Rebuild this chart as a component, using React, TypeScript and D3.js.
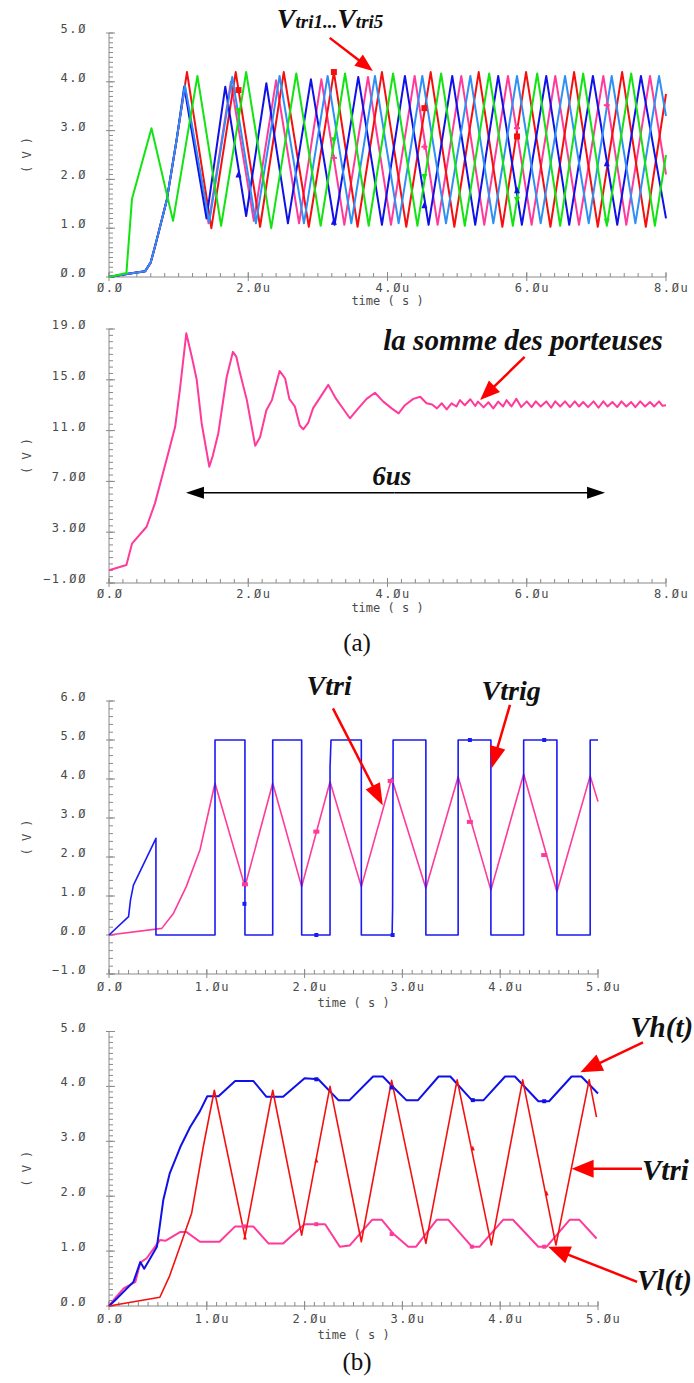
import React from "react";
import * as d3 from "d3";

type Pt = [number, number];

// ---------- Panel (a) top: five triangular carriers Vtri1..Vtri5 (t in µs, V) ----------
const vtriGreen: Pt[] = [[0,0],[0.25,0.08],[0.33,1.6],[0.61,3.05],[0.92,1.15],[1.27,4.12],[1.61,1.05],[1.97,4.2],[2.33,1.0],[2.69,4.17],[3.04,1.05],[3.39,4.17],[3.73,1.05],[4.08,4.17],[4.43,1.05],[4.77,4.17],[5.11,1.05],[5.46,4.17],[5.80,1.05],[6.15,4.17],[6.48,1.05],[6.81,4.17],[7.15,1.05],[7.50,4.17],[7.84,1.05],[8.0,2.5]];
const vtriLightBlue: Pt[] = [[0,0],[0.3,0.07],[0.52,0.12],[0.6,0.3],[0.685,0.76],[0.83,1.58],[0.97,2.8],[1.09,3.93],[1.44,1.12],[1.77,4.1],[2.11,1.1],[2.45,4.12],[2.80,1.1],[3.14,4.12],[3.48,1.1],[3.82,4.12],[4.16,1.1],[4.50,4.12],[4.84,1.1],[5.19,4.12],[5.52,1.1],[5.86,4.12],[6.20,1.1],[6.55,4.12],[6.89,1.1],[7.22,4.12],[7.56,1.1],[7.90,4.12],[8.0,3.3]];
const vtriRed: Pt[] = [[0,0],[0.3,0.07],[0.52,0.12],[0.6,0.3],[0.685,0.76],[0.83,1.58],[0.97,2.8],[1.12,4.2],[1.47,1.0],[1.82,4.2],[2.17,1.03],[2.51,4.2],[2.87,1.03],[3.23,4.2],[3.57,1.03],[3.92,4.2],[4.27,1.03],[4.62,4.2],[4.96,1.03],[5.31,4.2],[5.65,1.03],[5.99,4.2],[6.34,1.03],[6.68,4.2],[7.02,1.03],[7.37,4.2],[7.71,1.03],[8.0,3.75]];
const vtriBlue: Pt[] = [[0,0],[0.3,0.07],[0.52,0.12],[0.6,0.3],[0.685,0.76],[0.83,1.58],[0.97,2.8],[1.08,3.9],[1.40,1.2],[1.67,3.9],[1.97,1.25],[2.26,3.97],[2.57,1.1],[2.90,4.05],[3.24,1.07],[3.58,4.1],[3.92,1.07],[4.25,4.12],[4.59,1.07],[4.93,4.12],[5.26,1.07],[5.59,4.12],[5.93,1.07],[6.28,4.12],[6.61,1.07],[6.95,4.12],[7.30,1.07],[7.64,4.12],[8.0,1.2]];
const vtriPink: Pt[] = [[0,0],[0.3,0.07],[0.52,0.12],[0.6,0.3],[0.685,0.76],[0.83,1.58],[0.97,2.8],[1.09,3.9],[1.43,1.1],[1.75,4.0],[2.08,1.15],[2.40,4.03],[2.73,1.1],[3.05,4.05],[3.38,1.07],[3.72,4.1],[4.05,1.07],[4.39,4.12],[4.72,1.07],[5.06,4.12],[5.39,1.07],[5.73,4.12],[6.07,1.07],[6.41,4.12],[6.75,1.07],[7.10,4.12],[7.43,1.07],[7.77,4.12],[8.0,2.1]];

const mkRedA: Pt[] = [[1.86,3.83],[3.23,4.2],[4.53,3.46],[5.86,2.88]];
const mkGreenA: Pt[] = [[1.86,3.4],[3.23,2.8],[4.53,2.05],[5.86,1.58],[7.15,1.13]];
const mkBlueA: Pt[] = [[1.86,2.1],[3.23,1.13],[4.53,1.47],[5.86,1.78],[7.15,2.33]];
const mkPinkA: Pt[] = [[3.23,2.44],[4.53,2.67],[5.86,3.05],[7.15,3.52]];

// ---------- Panel (a) bottom: sum of the carriers ----------
const sommePorteuses: Pt[] = [[0,0],[0.25,0.42],[0.33,2.1],[0.54,3.43],[0.66,5.27],[0.85,9.2],[0.95,11.3],[1.02,14.3],[1.11,18.66],[1.19,16.8],[1.26,15.0],[1.33,11.6],[1.44,8.16],[1.49,9.0],[1.57,10.8],[1.69,15.2],[1.78,17.2],[1.83,16.8],[1.87,15.8],[1.98,13.4],[2.10,9.8],[2.17,10.5],[2.26,12.6],[2.34,13.4],[2.45,15.7],[2.53,15.1],[2.59,13.5],[2.67,12.9],[2.74,11.4],[2.79,11.1],[2.86,11.6],[2.93,12.75],[3.15,14.6],[3.25,13.6],[3.34,12.9],[3.46,11.97],[3.58,12.75],[3.70,13.5],[3.82,13.98],[3.94,13.28],[4.06,12.75],[4.16,12.36],[4.25,13.0],[4.37,13.5],[4.47,13.67],[4.56,13.15],[4.64,13.05],[4.71,12.75],[4.78,13.15],[4.85,12.67],[4.92,13.15],[4.99,12.9],[5.04,13.4],[5.11,13.0],[5.19,13.47],[5.26,12.94],[5.30,13.28],[5.38,12.83],[5.45,13.23],[5.52,12.75],[5.59,13.28],[5.66,12.9],[5.71,13.4],[5.78,12.9],[5.85,13.5],[5.92,12.85],[6.0,13.3],[6.07,12.85],[6.13,13.3],[6.20,12.9],[6.28,13.3],[6.35,12.8],[6.41,13.3],[6.48,12.9],[6.55,13.3],[6.62,12.85],[6.69,13.3],[6.75,12.9],[6.81,13.25],[6.88,12.85],[6.96,13.3],[7.03,12.8],[7.10,13.3],[7.16,12.9],[7.23,13.25],[7.30,12.85],[7.36,13.3],[7.43,12.9],[7.50,13.25],[7.56,12.85],[7.63,13.3],[7.70,12.9],[7.77,13.25],[7.83,12.9],[7.90,13.3],[7.95,12.95],[8.0,13.0]];

// ---------- Panel (b) top: Vtrig (square) and Vtri ----------
const vtrigB: Pt[] = [[0,0],[0.2,0.47],[0.22,0.9],[0.25,1.28],[0.48,2.48],[0.48,0],[1.084,0],[1.084,5],[1.39,5],[1.39,0],[1.674,0],[1.674,5],[1.97,5],[1.97,0],[2.26,0],[2.26,4.3],[2.27,5],[2.58,5],[2.58,0],[2.895,0],[2.9,0.72],[2.905,5],[3.24,5],[3.24,0],[3.57,0],[3.57,5],[3.905,5],[3.905,0],[4.24,0],[4.24,5],[4.58,5],[4.58,0],[4.92,0],[4.92,5],[5.0,5]];
const vtriB: Pt[] = [[0,0],[0.54,0.17],[0.66,0.56],[0.79,1.24],[0.93,2.18],[1.084,3.89],[1.39,1.24],[1.674,3.89],[1.97,1.24],[2.26,3.93],[2.58,1.24],[2.89,4.02],[3.24,1.2],[3.57,4.06],[3.905,1.15],[4.24,4.13],[4.58,1.11],[4.92,4.08],[5.0,3.42]];
const mkTrigB: Pt[] = [[1.385,0.8],[2.12,0],[2.9,0],[3.69,5],[4.45,5]];
const mkTriB: Pt[] = [[1.39,1.3],[2.12,2.65],[2.88,3.95],[3.69,2.9],[4.45,2.05]];

// ---------- Panel (b) bottom: Vh(t), Vtri, Vl(t) ----------
const vhB: Pt[] = [[0,0],[0.06,0.1],[0.25,0.44],[0.32,0.8],[0.36,0.68],[0.49,1.08],[0.555,1.93],[0.62,2.41],[0.73,2.9],[0.83,3.26],[0.93,3.55],[1.005,3.82],[1.12,3.82],[1.29,4.1],[1.475,4.1],[1.61,3.81],[1.78,3.81],[2.0,4.15],[2.14,4.13],[2.345,3.75],[2.46,3.75],[2.70,4.18],[2.80,4.18],[2.91,3.98],[3.04,3.75],[3.16,3.75],[3.37,4.18],[3.49,4.18],[3.71,3.75],[3.83,3.75],[4.05,4.18],[4.15,4.18],[4.39,3.73],[4.50,3.73],[4.73,4.18],[4.83,4.18],[5.0,3.87]];
const vlB: Pt[] = [[0,0],[0.06,0.14],[0.15,0.32],[0.27,0.44],[0.32,0.79],[0.385,0.87],[0.52,1.2],[0.58,1.19],[0.73,1.35],[0.79,1.35],[0.93,1.17],[1.13,1.17],[1.29,1.45],[1.475,1.45],[1.63,1.14],[1.78,1.14],[2.0,1.49],[2.21,1.49],[2.36,1.08],[2.46,1.1],[2.69,1.57],[2.79,1.57],[2.91,1.31],[3.06,1.08],[3.14,1.08],[3.35,1.57],[3.47,1.57],[3.71,1.08],[3.79,1.08],[4.03,1.57],[4.13,1.57],[4.39,1.08],[4.475,1.08],[4.71,1.57],[4.81,1.57],[4.985,1.23]];
const vtriB2: Pt[] = [[0,0],[0.52,0.16],[0.62,0.55],[0.725,1.08],[0.845,1.69],[0.965,2.91],[1.077,3.93],[1.39,1.26],[1.674,3.93],[1.97,1.29],[2.26,4.0],[2.58,1.17],[2.89,4.11],[3.24,1.14],[3.56,4.12],[3.91,1.11],[4.23,4.12],[4.57,1.11],[4.91,4.12],[4.985,3.44]];
const mkTriB2: Pt[] = [[1.39,1.25],[2.12,2.65],[3.72,2.87],[4.475,2.05]];
const mkVhB: Pt[] = [[2.12,4.13],[2.89,3.98],[3.72,3.75],[4.45,3.73]];
const mkVlB: Pt[] = [[1.38,1.45],[2.12,1.49],[2.89,1.31],[3.71,1.08],[4.45,1.08]];

// ---------- tick labels ----------
const xTicksA = [0, 2, 4, 6, 8];
const xLabelsA = ["Ø.Ø", "2.Øu", "4.Øu", "6.Øu", "8.Øu"];
const yTicksA1 = [0, 1, 2, 3, 4, 5];
const yLabelsA1 = ["Ø.Ø", "1.Ø", "2.Ø", "3.Ø", "4.Ø", "5.Ø"];
const yTicksA2 = [-1, 3, 7, 11, 15, 19];
const yLabelsA2 = ["−1.ØØ", "3.ØØ", "7.ØØ", "11.Ø", "15.Ø", "19.Ø"];
const xTicksB = [0, 1, 2, 3, 4, 5];
const xLabelsB = ["Ø.Ø", "1.Øu", "2.Øu", "3.Øu", "4.Øu", "5.Øu"];
const yTicksB1 = [-1, 0, 1, 2, 3, 4, 5, 6];
const yLabelsB1 = ["−1.Ø", "Ø.Ø", "1.Ø", "2.Ø", "3.Ø", "4.Ø", "5.Ø", "6.Ø"];
const yTicksB2 = [0, 1, 2, 3, 4, 5];
const yLabelsB2 = ["Ø.Ø", "1.Ø", "2.Ø", "3.Ø", "4.Ø", "5.Ø"];

const MONO = "'DejaVu Sans Mono', monospace";
const SERIF = "'Liberation Serif', 'Times New Roman', serif";
const AXIS = "#8a8a8a";
const LBL = "#4a4a4a";

type Lin = d3.ScaleLinear<number, number>;

function Axes(props: {
  x: Lin; y: Lin; xTicks: number[]; xLabels: string[]; xMinor: number;
  yTicks: number[]; yLabels: string[]; yMinor: number; lblGap: number; titleGap: number;
}) {
  const { x, y, xTicks, xLabels, xMinor, yTicks, yLabels, yMinor, lblGap, titleGap } = props;
  const [x0, x1] = x.range();
  const [yb, yt] = y.range();
  const [dx0, dx1] = x.domain();
  const [dy0, dy1] = y.domain();
  const xm = d3.range(Math.round((dx1 - dx0) / xMinor) + 1).map((i) => dx0 + i * xMinor);
  const ym = d3.range(Math.round((dy1 - dy0) / yMinor) + 1).map((i) => dy0 + i * yMinor);
  return (
    <g>
      <line x1={x0} x2={x0} y1={yt} y2={yb} stroke={AXIS} strokeWidth={1} />
      <line x1={x0} x2={x1} y1={yb} y2={yb} stroke={AXIS} strokeWidth={1} />
      {xm.map((v, i) => (
        <line key={"xm" + i} x1={x(v)} x2={x(v)} y1={yb - 4} y2={yb} stroke={AXIS} strokeWidth={1} />
      ))}
      {xTicks.map((v, i) => (
        <g key={"xt" + i}>
          <line x1={x(v)} x2={x(v)} y1={yb - 5} y2={yb + 4} stroke={AXIS} strokeWidth={1} />
          <text x={x(v) - 12} y={yb + lblGap} fontFamily={MONO} fontSize={12} letterSpacing={1.6} fill={LBL}>{xLabels[i]}</text>
        </g>
      ))}
      {ym.map((v, i) => (
        <line key={"ym" + i} x1={x0} x2={x0 + 4} y1={y(v)} y2={y(v)} stroke={AXIS} strokeWidth={1} />
      ))}
      {yTicks.map((v, i) => (
        <g key={"yt" + i}>
          <line x1={x0 - 3} x2={x0 + 6} y1={y(v)} y2={y(v)} stroke={AXIS} strokeWidth={1} />
          <text x={87} y={y(v)} textAnchor="end" fontFamily={MONO} fontSize={12} letterSpacing={1.6} fill={LBL}>{yLabels[i]}</text>
        </g>
      ))}
      <text x={(x0 + x1) / 2} y={yb + titleGap} textAnchor="middle" fontFamily={MONO} fontSize={12} fill={LBL}>time ( s )</text>
      <text transform={`translate(31,${(yb + yt) / 2}) rotate(-90)`} textAnchor="middle" fontFamily={MONO} fontSize={12} fill={LBL}>( V )</text>
    </g>
  );
}

function Trace({ data, x, y, color, width }: { data: Pt[]; x: Lin; y: Lin; color: string; width: number }) {
  const gen = d3.line<Pt>().x((d) => x(d[0])).y((d) => y(d[1]));
  return <path d={gen(data) || ""} fill="none" stroke={color} strokeWidth={width} strokeLinejoin="round" />;
}

function Markers({ data, x, y, color, shape, s = 3 }: { data: Pt[]; x: Lin; y: Lin; color: string; shape: string; s?: number }) {
  return (
    <g>
      {data.map((d, i) => {
        const cx = x(d[0]);
        const cy = y(d[1]);
        if (shape === "square") return <rect key={i} x={cx - s} y={cy - s} width={2 * s} height={2 * s} fill={color} />;
        if (shape === "up") return <path key={i} d={`M${cx},${cy - s - 1}L${cx + s},${cy + s}L${cx - s},${cy + s}Z`} fill={color} />;
        if (shape === "down") return <path key={i} d={`M${cx},${cy + s + 1}L${cx + s},${cy - s}L${cx - s},${cy - s}Z`} fill={color} />;
        if (shape === "bar") return <rect key={i} x={cx - s - 1} y={cy - 2} width={2 * s + 2} height={4} fill={color} />;
        return (
          <g key={i} stroke={color} strokeWidth={2}>
            <line x1={cx - s} x2={cx + s} y1={cy} y2={cy} />
            <line x1={cx} x2={cx} y1={cy - s} y2={cy + s} />
          </g>
        );
      })}
    </g>
  );
}

function Arrow({ x1, y1, x2, y2, color, width, head, half }: { x1: number; y1: number; x2: number; y2: number; color: string; width: number; head: number; half: number }) {
  const dx = x2 - x1;
  const dy = y2 - y1;
  const len = Math.hypot(dx, dy);
  const ux = dx / len;
  const uy = dy / len;
  const bx = x2 - ux * head;
  const by = y2 - uy * head;
  return (
    <g>
      <line x1={x1} y1={y1} x2={bx + ux * 2} y2={by + uy * 2} stroke={color} strokeWidth={width} />
      <path d={`M${x2},${y2}L${bx - uy * half},${by + ux * half}L${bx + uy * half},${by - ux * half}Z`} fill={color} />
    </g>
  );
}

const GREEN = "#12e412";
const LBLUE = "#2f8ff5";
const RED = "#f51010";
const BLUE = "#1010e8";
const PINK = "#ff3a9a";

export default function App() {
  const xA = d3.scaleLinear().domain([0, 8]).range([109, 666]);
  const yA1 = d3.scaleLinear().domain([0, 5]).range([277, 33]);
  const yA2 = d3.scaleLinear().domain([-1, 19]).range([583, 329]);
  const xB = d3.scaleLinear().domain([0, 5]).range([109, 598]);
  const yB1 = d3.scaleLinear().domain([-1, 6]).range([974, 701]);
  const yB2 = d3.scaleLinear().domain([0, 5]).range([1306, 1031.5]);

  return (
    <svg width={694} height={1383} style={{ position: "absolute", left: 0, top: 0, background: "#fff" }}>
      <rect x={0} y={0} width={694} height={1383} fill="#fff" />

      {/* ---- (a) top ---- */}
      <Axes x={xA} y={yA1} xTicks={xTicksA} xLabels={xLabelsA} xMinor={0.2} yTicks={yTicksA1} yLabels={yLabelsA1} yMinor={0.1} lblGap={15} titleGap={28} />
      <Trace data={vtriPink} x={xA} y={yA1} color={PINK} width={2} />
      <Trace data={vtriRed} x={xA} y={yA1} color={RED} width={2} />
      <Trace data={vtriBlue} x={xA} y={yA1} color={BLUE} width={2} />
      <Trace data={vtriLightBlue} x={xA} y={yA1} color={LBLUE} width={2} />
      <Trace data={vtriGreen} x={xA} y={yA1} color={GREEN} width={2} />
      <Markers data={mkRedA} x={xA} y={yA1} color={RED} shape="square" />
      <Markers data={mkGreenA} x={xA} y={yA1} color={GREEN} shape="down" />
      <Markers data={mkBlueA} x={xA} y={yA1} color={BLUE} shape="up" />
      <Markers data={mkPinkA} x={xA} y={yA1} color={PINK} shape="plus" />
      <text x={xA(2.41)} y={yA1(5.1)} fontFamily={SERIF} fontWeight="bold" fontStyle="italic" fill="#111">
        <tspan fontSize={28}>V</tspan><tspan fontSize={19}>tri1...</tspan><tspan fontSize={28}>V</tspan><tspan fontSize={19}>tri5</tspan>
      </text>
      <Arrow x1={xA(3.17)} y1={yA1(4.9)} x2={xA(3.79)} y2={yA1(4.22)} color="#f00" width={2.5} head={18} half={7} />

      {/* ---- (a) bottom ---- */}
      <Axes x={xA} y={yA2} xTicks={xTicksA} xLabels={xLabelsA} xMinor={0.2} yTicks={yTicksA2} yLabels={yLabelsA2} yMinor={0.5} lblGap={15} titleGap={29} />
      <Trace data={sommePorteuses} x={xA} y={yA2} color={PINK} width={2} />
      <text x={xA(3.94)} y={yA2(17.35)} fontFamily={SERIF} fontWeight="bold" fontStyle="italic" fontSize={29} fill="#111">la somme des porteuses</text>
      <Arrow x1={xA(5.97)} y1={yA2(16.8)} x2={xA(5.33)} y2={yA2(13.4)} color="#f00" width={2.5} head={20} half={8} />
      <text x={xA(3.78)} y={yA2(6.72)} fontFamily={SERIF} fontWeight="bold" fontStyle="italic" fontSize={27} fill="#111">6us</text>
      <Arrow x1={xA(4.1)} y1={yA2(6.1)} x2={xA(1.105)} y2={yA2(6.1)} color="#000" width={1.5} head={18} half={6} />
      <Arrow x1={xA(4.1)} y1={yA2(6.1)} x2={xA(7.125)} y2={yA2(6.1)} color="#000" width={1.5} head={18} half={6} />
      <text x={357} y={651} textAnchor="middle" fontFamily={SERIF} fontSize={25} fill="#111">(a)</text>

      {/* ---- (b) top ---- */}
      <Axes x={xB} y={yB1} xTicks={xTicksB} xLabels={xLabelsB} xMinor={0.1} yTicks={yTicksB1} yLabels={yLabelsB1} yMinor={0.2} lblGap={17} titleGap={33} />
      <Trace data={vtriB} x={xB} y={yB1} color={PINK} width={1.6} />
      <Trace data={vtrigB} x={xB} y={yB1} color="#1a1af5" width={1.6} />
      <Markers data={mkTriB} x={xB} y={yB1} color={PINK} shape="bar" s={2} />
      <Markers data={mkTrigB} x={xB} y={yB1} color="#1a1af5" shape="square" s={2} />
      <text x={xB(2.02)} y={yB1(6.15)} fontFamily={SERIF} fontWeight="bold" fontStyle="italic" fontSize={28} fill="#111">Vtri</text>
      <Arrow x1={xB(2.29)} y1={yB1(5.81)} x2={xB(2.8)} y2={yB1(3.32)} color="#f00" width={2.5} head={22} half={8} />
      <text x={xB(3.81)} y={yB1(6.03)} fontFamily={SERIF} fontWeight="bold" fontStyle="italic" fontSize={28} fill="#111">Vtrig</text>
      <Arrow x1={xB(4.1)} y1={yB1(5.9)} x2={xB(3.91)} y2={yB1(4.27)} color="#f00" width={2.5} head={22} half={8} />

      {/* ---- (b) bottom ---- */}
      <Axes x={xB} y={yB2} xTicks={xTicksB} xLabels={xLabelsB} xMinor={0.1} yTicks={yTicksB2} yLabels={yLabelsB2} yMinor={0.1} lblGap={17} titleGap={33} />
      <Trace data={vlB} x={xB} y={yB2} color={PINK} width={2} />
      <Trace data={vhB} x={xB} y={yB2} color={BLUE} width={2} />
      <Trace data={vtriB2} x={xB} y={yB2} color={RED} width={1.6} />
      <Markers data={mkVlB} x={xB} y={yB2} color={PINK} shape="square" s={2} />
      <Markers data={mkVhB} x={xB} y={yB2} color={BLUE} shape="square" s={2} />
      <Markers data={mkTriB2} x={xB} y={yB2} color={RED} shape="up" s={2} />
      <text x={xB(5.33)} y={yB2(4.9)} fontFamily={SERIF} fontWeight="bold" fontStyle="italic" fontSize={29} fill="#111">Vh(t)</text>
      <Arrow x1={xB(5.46)} y1={yB2(4.8)} x2={xB(4.82)} y2={yB2(4.26)} color="#f00" width={2.5} head={22} half={9} />
      <text x={xB(5.45)} y={yB2(2.29)} fontFamily={SERIF} fontWeight="bold" fontStyle="italic" fontSize={29} fill="#111">Vtri</text>
      <Arrow x1={xB(5.45)} y1={yB2(2.5)} x2={xB(4.73)} y2={yB2(2.5)} color="#f00" width={2.5} head={22} half={9} />
      <text x={xB(5.40)} y={yB2(0.29)} fontFamily={SERIF} fontWeight="bold" fontStyle="italic" fontSize={29} fill="#111">Vl(t)</text>
      <Arrow x1={xB(5.40)} y1={yB2(0.44)} x2={xB(4.49)} y2={yB2(1.08)} color="#f00" width={2.5} head={22} half={9} />
      <text x={357} y={1370} textAnchor="middle" fontFamily={SERIF} fontSize={25} fill="#111">(b)</text>
    </svg>
  );
}
